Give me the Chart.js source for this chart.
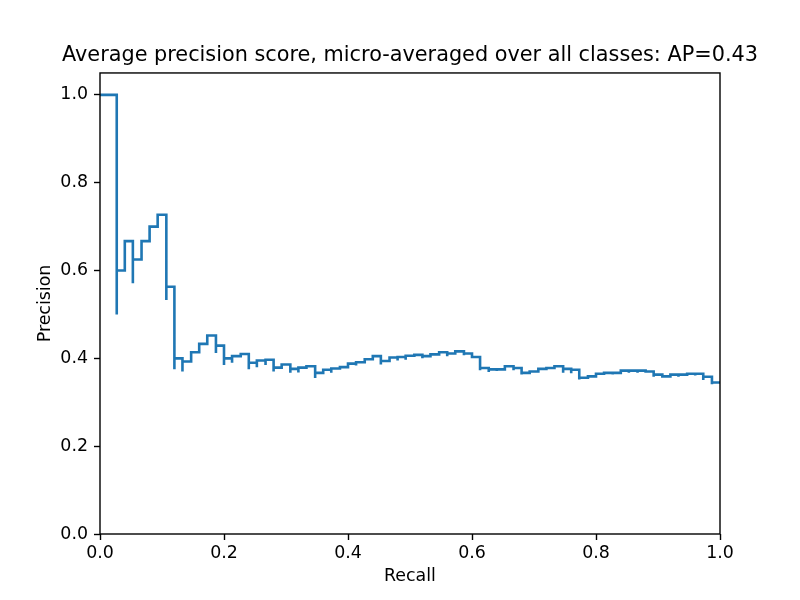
<!DOCTYPE html>
<html>
<head>
<meta charset="utf-8">
<title>Average precision score</title>
<script src="https://cdn.jsdelivr.net/npm/chart.js@4.4.0/dist/chart.umd.min.js"></script>
<style>
  html, body { margin: 0; padding: 0; background: #fff; }
</style>
</head>
<body>
<canvas id="chart" width="800" height="600"></canvas>
<script>
/* global Chart */
// precision-recall curve, micro-averaged (points in increasing recall order,
// a repeated recall value is the short drop drawn at that step)
var recall = [
  0.000, 0.027, 0.027, 0.040, 0.053, 0.053, 0.067, 0.080, 0.093, 0.107, 0.107,
  0.120, 0.120, 0.133, 0.133, 0.147, 0.160, 0.173, 0.187, 0.187, 0.200, 0.200,
  0.213, 0.213, 0.227, 0.240, 0.240, 0.253, 0.253, 0.267, 0.267, 0.280, 0.280,
  0.293, 0.307, 0.307, 0.320, 0.320, 0.333, 0.347, 0.347, 0.360, 0.373, 0.373,
  0.387, 0.400, 0.413, 0.413, 0.427, 0.440, 0.453, 0.453, 0.467, 0.480, 0.480,
  0.493, 0.493, 0.507, 0.520, 0.520, 0.533, 0.547, 0.560, 0.560, 0.573, 0.587,
  0.587, 0.600, 0.613, 0.613, 0.627, 0.627, 0.640, 0.640, 0.653, 0.667, 0.667,
  0.680, 0.680, 0.693, 0.707, 0.720, 0.733, 0.747, 0.747, 0.760, 0.760, 0.773,
  0.773, 0.787, 0.800, 0.813, 0.827, 0.827, 0.840, 0.853, 0.853, 0.867, 0.867,
  0.880, 0.893, 0.893, 0.907, 0.907, 0.920, 0.933, 0.933, 0.947, 0.960, 0.960,
  0.973, 0.973, 0.987, 0.987, 1.000
];
var precision = [
  1.000, 1.000, 0.500, 0.600, 0.667, 0.571, 0.625, 0.667, 0.700, 0.727, 0.533,
  0.563, 0.375, 0.400, 0.370, 0.393, 0.414, 0.433, 0.452, 0.412, 0.429, 0.385,
  0.400, 0.390, 0.405, 0.410, 0.375, 0.390, 0.380, 0.395, 0.385, 0.397, 0.370,
  0.379, 0.386, 0.367, 0.376, 0.368, 0.379, 0.382, 0.355, 0.367, 0.374, 0.367,
  0.377, 0.380, 0.388, 0.384, 0.391, 0.398, 0.405, 0.386, 0.394, 0.402, 0.395,
  0.403, 0.397, 0.406, 0.408, 0.400, 0.405, 0.409, 0.414, 0.405, 0.411, 0.416,
  0.407, 0.411, 0.403, 0.373, 0.378, 0.369, 0.375, 0.371, 0.375, 0.382, 0.373,
  0.378, 0.363, 0.367, 0.370, 0.376, 0.378, 0.382, 0.367, 0.376, 0.366, 0.374,
  0.352, 0.356, 0.359, 0.365, 0.367, 0.363, 0.367, 0.372, 0.367, 0.372, 0.367,
  0.372, 0.370, 0.358, 0.363, 0.356, 0.359, 0.363, 0.358, 0.363, 0.365, 0.361,
  0.365, 0.351, 0.358, 0.341, 0.345
];
var xTicks = [0.0, 0.2, 0.4, 0.6, 0.8, 1.0];
var yTicks = [0.0, 0.2, 0.4, 0.6, 0.8, 1.0];

var FONT = 'DejaVu Sans';
Chart.defaults.font.family = FONT;
Chart.defaults.font.size = 17.4;
Chart.defaults.color = '#000';

// matplotlib draws all four spines on top of the line
var frame = {
  id: 'frame',
  afterDatasetsDraw: function (chart) {
    var a = chart.chartArea;
    var ctx = chart.ctx;
    ctx.save();
    ctx.strokeStyle = '#000';
    ctx.lineWidth = 1.4;
    ctx.strokeRect(a.left, a.top, a.right - a.left, a.bottom - a.top);
    ctx.restore();
  }
};

var points = recall.map(function (r, i) { return { x: r, y: precision[i] }; });

var tickGrid = {
  display: true,
  drawOnChartArea: false,
  drawTicks: true,
  tickLength: 6,
  tickColor: '#000',
  tickWidth: 1.4
};

new Chart(document.getElementById('chart').getContext('2d'), {
  type: 'line',
  data: {
    datasets: [{
      data: points,
      borderColor: '#1f77b4',
      borderWidth: 2.6,
      pointRadius: 0,
      stepped: 'after',
      fill: false
    }]
  },
  options: {
    responsive: false,
    animation: false,
    // title box runs 20..800 so it is centred over the axes (100..720)
    layout: { padding: { left: 20, right: 0, top: 0, bottom: 0 } },
    plugins: {
      legend: { display: false },
      tooltip: { enabled: false },
      title: {
        display: true,
        text: 'Average precision score, micro-averaged over all classes: AP=0.43',
        color: '#000',
        font: { family: FONT, size: 20.8, weight: 'normal' },
        padding: { top: 43, bottom: 5 }
      }
    },
    scales: {
      x: {
        type: 'linear',
        min: 0,
        max: 1,
        grid: tickGrid,
        border: { display: false },
        afterBuildTicks: function (s) { s.ticks = xTicks.map(function (v) { return { value: v }; }); },
        afterFit: function (s) { s.height = 66; },
        ticks: { padding: 3, callback: function (v) { return Number(v).toFixed(1); } },
        title: { display: true, text: 'Recall', padding: { top: 0, bottom: 13 } }
      },
      y: {
        type: 'linear',
        min: 0,
        max: 1.05,
        grid: tickGrid,
        border: { display: false },
        afterBuildTicks: function (s) { s.ticks = yTicks.map(function (v) { return { value: v }; }); },
        afterFit: function (s) { s.width = 80; },
        ticks: { padding: 6, callback: function (v) { return Number(v).toFixed(1); } },
        title: { display: true, text: 'Precision', padding: { top: 15, bottom: 0 } }
      },
      // empty right margin
      pad: {
        type: 'linear',
        position: 'right',
        min: 0,
        max: 1,
        grid: { display: false },
        ticks: { display: false },
        border: { display: false },
        afterFit: function (s) { s.width = 80; }
      }
    }
  },
  plugins: [frame]
});
</script>
</body>
</html>
